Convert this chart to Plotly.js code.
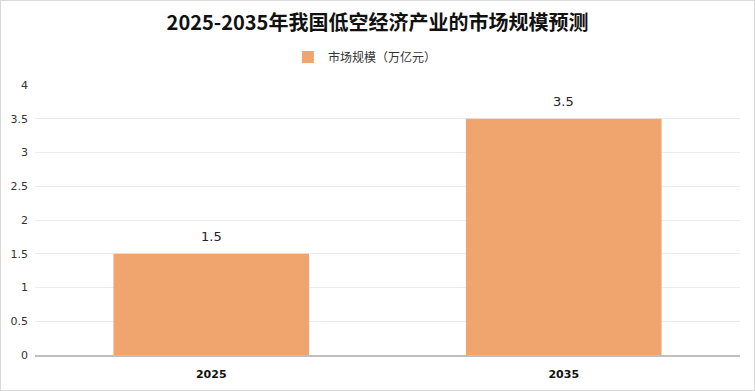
<!DOCTYPE html>
<html><head><meta charset="utf-8">
<script src="https://cdn.plot.ly/plotly-3.0.1.min.js"></script>
<style>
html,body{margin:0;padding:0;background:#fff;}
#wrap{width:755px;height:391px;box-sizing:border-box;border:1px solid #d9d9d9;}
#chart{width:753px;height:389px;}
</style></head>
<body><div id="wrap"><div id="chart"></div></div>
<script>
const categories = ['2025', '2035'];
const values = [1.5, 3.5];
const seriesName = '市场规模（万亿元）';
const yTicks = [0, 0.5, 1, 1.5, 2, 2.5, 3, 3.5, 4];
const yTickLabels = ['0', '0.5', '1', '1.5', '2', '2.5', '3', '3.5', '4'];

const trace = {
  type: 'bar',
  x: categories,
  y: values,
  name: seriesName,
  marker: {color: '#F0A56F'},
  width: 0.555,
  showlegend: true
};

const labels = categories.map((c, i) => ({
  x: i, y: values[i], xref: 'x', yref: 'y',
  text: values[i].toFixed(1), showarrow: false,
  yanchor: 'bottom', yshift: 8,
  font: {family: 'DejaVu Sans, sans-serif', size: 13, color: '#222'}
}));

const layout = {
  width: 753, height: 389,
  margin: {l: 34, r: 14, t: 84, b: 35},
  paper_bgcolor: '#fff', plot_bgcolor: '#fff',
  font: {family: '"Noto Sans CJK SC", "Liberation Sans", sans-serif', color: '#333'},
  title: {
    text: '<b>2025-2035年我国低空经济产业的市场规模预测</b>',
    font: {family: '"Noto Sans CJK SC", sans-serif', size: 20, color: '#111'},
    x: 0.5, xanchor: 'center', y: 0.944, yanchor: 'middle'
  },
  showlegend: true,
  legend: {
    orientation: 'h', x: 0.468, xanchor: 'center', y: 1.104, yanchor: 'middle',
    font: {family: '"Noto Sans CJK SC", sans-serif', size: 12, color: '#333'},
    itemwidth: 30
  },
  annotations: labels,
  xaxis: {
    type: 'category',
    categoryarray: categories, categoryorder: 'array',
    range: [-0.5, categories.length - 0.5],
    showgrid: false,
    showline: true, linecolor: '#bfbfbf', linewidth: 2,
    ticks: '',
    tickfont: {family: 'DejaVu Sans, sans-serif', size: 11, color: '#111', weight: 'bold'},
    ticklabelstandoff: 8
  },
  yaxis: {
    range: [0, 4],
    tickvals: yTicks, ticktext: yTickLabels,
    showgrid: true, gridcolor: '#ececec', gridwidth: 1,
    zeroline: false, showline: false,
    ticks: '',
    tickfont: {family: 'DejaVu Sans, sans-serif', size: 11, color: '#333'},
    ticklabelstandoff: 6
  },
  bargap: 0.445
};

Plotly.newPlot('chart', [trace], layout, {displayModeBar: false, staticPlot: true});
</script></body></html>
